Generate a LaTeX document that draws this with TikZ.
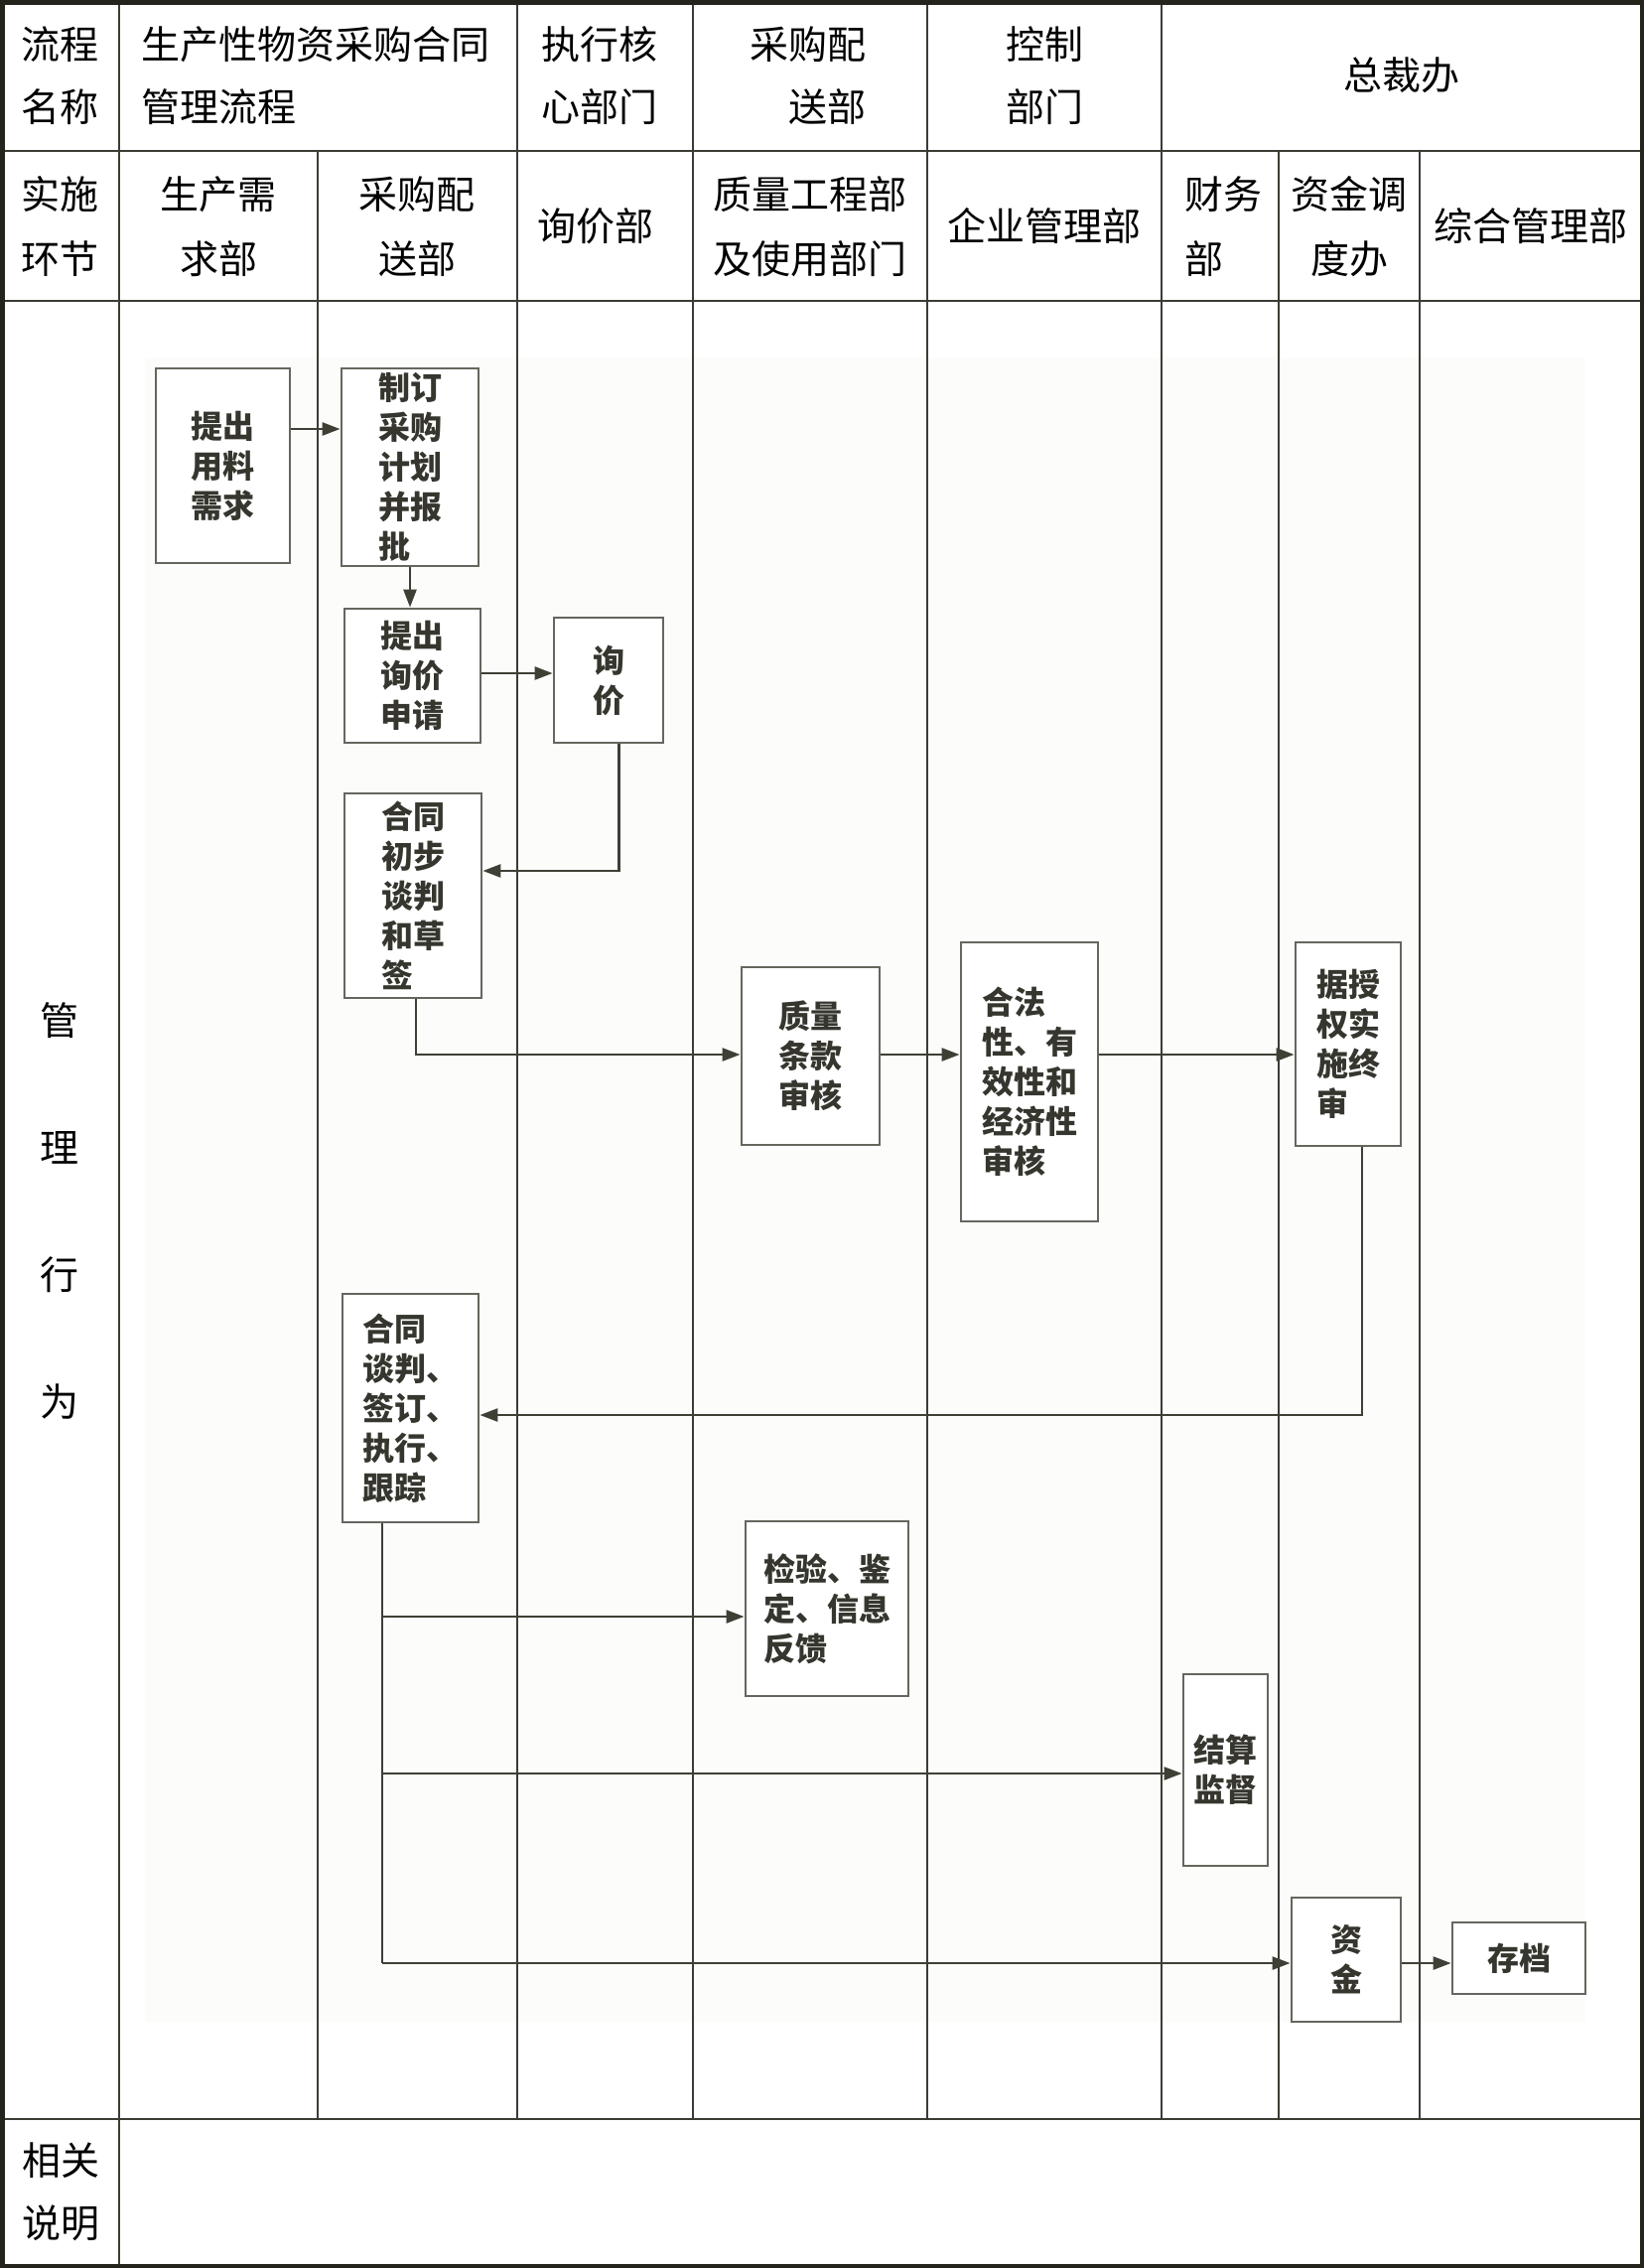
\documentclass[tikz,border=0pt]{standalone}
\usepackage{fontspec}
\setmainfont{Noto Sans CJK SC}
\usetikzlibrary{arrows.meta}
\definecolor{tline}{HTML}{3C3C34}
\definecolor{tborder}{HTML}{24241C}
\definecolor{bline}{HTML}{66665E}
\definecolor{aline}{HTML}{3F3F36}
\definecolor{btext}{HTML}{36362F}
\definecolor{imgbg}{HTML}{FCFCFB}
\begin{document}
\begin{tikzpicture}[x=1pt,y=-1pt,
  hdr/.style={inner sep=0pt, font=\fontsize{39}{63}\selectfont, text=black},
  box/.style={draw=bline, line width=2.8pt, fill=white, inner sep=0pt, align=left,
    font=\bfseries\fontsize{32}{40}\selectfont, text=btext},
  arr/.style={draw=aline, line width=2.5pt, -{Triangle[length=18pt,width=13pt]}},
  conn/.style={draw=aline, line width=2.5pt},
  tl/.style={draw=tline, line width=2pt}]
\useasboundingbox (0,0) rectangle (1656,2284);
\fill[white] (0,0) rectangle (1656,2284);
\fill[imgbg] (146,360) rectangle (1597,2036);
% table grid
\draw[tl] (0,152) -- (1656,152);
\draw[tl] (0,303) -- (1656,303);
\draw[tl] (0,2134) -- (1656,2134);
\draw[tl] (120,0) -- (120,2284);
\draw[tl] (320,152) -- (320,2134);
\draw[tl] (521,0) -- (521,2134);
\draw[tl] (698,0) -- (698,2134);
\draw[tl] (934,0) -- (934,2134);
\draw[tl] (1170,0) -- (1170,2134);
\draw[tl] (1288,152) -- (1288,2134);
\draw[tl] (1430,152) -- (1430,2134);
\draw[tborder, line width=4.5pt] (2.25,2.25) rectangle (1653.75,2281.75);
% header row 1
\node[hdr, align=center] (h11) at (60,76) {流程\\名称};
\node[hdr, align=left, anchor=west] (h12) at (142,76) {生产性物资采购合同\\管理流程};
\node[hdr, align=left, anchor=west] (h13) at (545,76) {执行核\\心部门};
\node[hdr, align=right, anchor=east] (h14) at (873,76) {采购配\\送部};
\node[hdr, align=center] (h15) at (1052,76) {控制\\部门};
\node[hdr] (h16) at (1412,76) {总裁办};
% header row 2
\node[hdr, align=center, font=\fontsize{39}{65}\selectfont] (h21) at (60,228) {实施\\环节};
\node[hdr, align=center, font=\fontsize{39}{65}\selectfont] (h22) at (220,228) {生产需\\求部};
\node[hdr, align=center, font=\fontsize{39}{65}\selectfont] (h23) at (420,228) {采购配\\送部};
\node[hdr] (h24) at (600,228) {询价部};
\node[hdr, align=center, font=\fontsize{39}{65}\selectfont] (h25) at (816,228) {质量工程部\\及使用部门};
\node[hdr] (h26) at (1052,228) {企业管理部};
\node[hdr, align=left, anchor=west, font=\fontsize{39}{65}\selectfont] (h27) at (1193,228) {财务\\部};
\node[hdr, align=center, font=\fontsize{39}{65}\selectfont] (h28) at (1359,228) {资金调\\度办};
\node[hdr] (h29) at (1542,228) {综合管理部};
% side labels
\node[hdr, align=center, font=\fontsize{39}{128}\selectfont] (h31) at (60,1219) {管\\理\\行\\为};
\node[hdr, align=center] (h41) at (61,2207) {相关\\说明};
% flow boxes
\node[box, minimum width=135pt, minimum height=196pt] (b1) at (224.5,469) {提出\\用料\\需求};
\node[box, minimum width=138pt, minimum height=199pt] (b2) at (413,470.5) {制订\\采购\\计划\\并报\\批};
\node[box, minimum width=137pt, minimum height=135pt] (b3) at (415.5,680.5) {提出\\询价\\申请};
\node[box, minimum width=110pt, minimum height=126pt] (b4) at (613,685) {询\\价};
\node[box, minimum width=138pt, minimum height=206pt] (b5) at (416,902) {合同\\初步\\谈判\\和草\\签};
\node[box, minimum width=139pt, minimum height=179pt] (b6) at (816.5,1063.5) {质量\\条款\\审核};
\node[box, minimum width=138pt, minimum height=281pt] (b7) at (1037,1089.5) {合法\\性、有\\效性和\\经济性\\审核};
\node[box, minimum width=106pt, minimum height=205pt] (b8) at (1358,1051.5) {据授\\权实\\施终\\审};
\node[box, minimum width=137pt, minimum height=230pt] (b9) at (413.5,1418) {合同\\谈判、\\签订、\\执行、\\跟踪};
\node[box, minimum width=164pt, minimum height=176pt] (b10) at (833,1620) {检验、鉴\\定、信息\\反馈};
\node[box, minimum width=85pt, minimum height=193pt] (b11) at (1234.5,1782.5) {结算\\监督};
\node[box, minimum width=110pt, minimum height=125pt] (b12) at (1356,1973.5) {资\\金};
\node[box, minimum width=134pt, minimum height=72pt] (b13) at (1530,1972) {存档};
% helper coordinates
\coordinate (k12) at (0,432);
\coordinate (k34) at (0,678);
\coordinate (k45) at (623.5,877);
\coordinate (k56) at (419,1062);
\coordinate (k89) at (1372,1425);
\coordinate (t1) at (385,1628);
\coordinate (t2) at (385,1786);
\coordinate (t3) at (385,1977);
% connectors
\draw[arr] (b1.east |- k12) -- (b2.west |- k12);
\draw[arr] (b2.south) -- (b2.south |- b3.north);
\draw[arr] (b3.east |- k34) -- (b4.west |- k34);
\draw[arr] (b4.south -| k45) -- (k45) -- (b5.east |- k45);
\draw[arr] (b5.south -| k56) -- (k56) -- (b6.west |- k56);
\draw[arr] (b6.east |- k56) -- (b7.west |- k56);
\draw[arr] (b7.east |- k56) -- (b8.west |- k56);
\draw[arr] (b8.south -| k89) -- (k89) -- (b9.east |- k89);
\draw[conn] (b9.south -| t1) -- (t3);
\draw[arr] (t1) -- (b10.west |- t1);
\draw[arr] (t2) -- (b11.west |- t2);
\draw[arr] (t3) -- (b12.west |- t3);
\draw[arr] (b12.east |- t3) -- (b13.west |- t3);
\end{tikzpicture}
\end{document}
